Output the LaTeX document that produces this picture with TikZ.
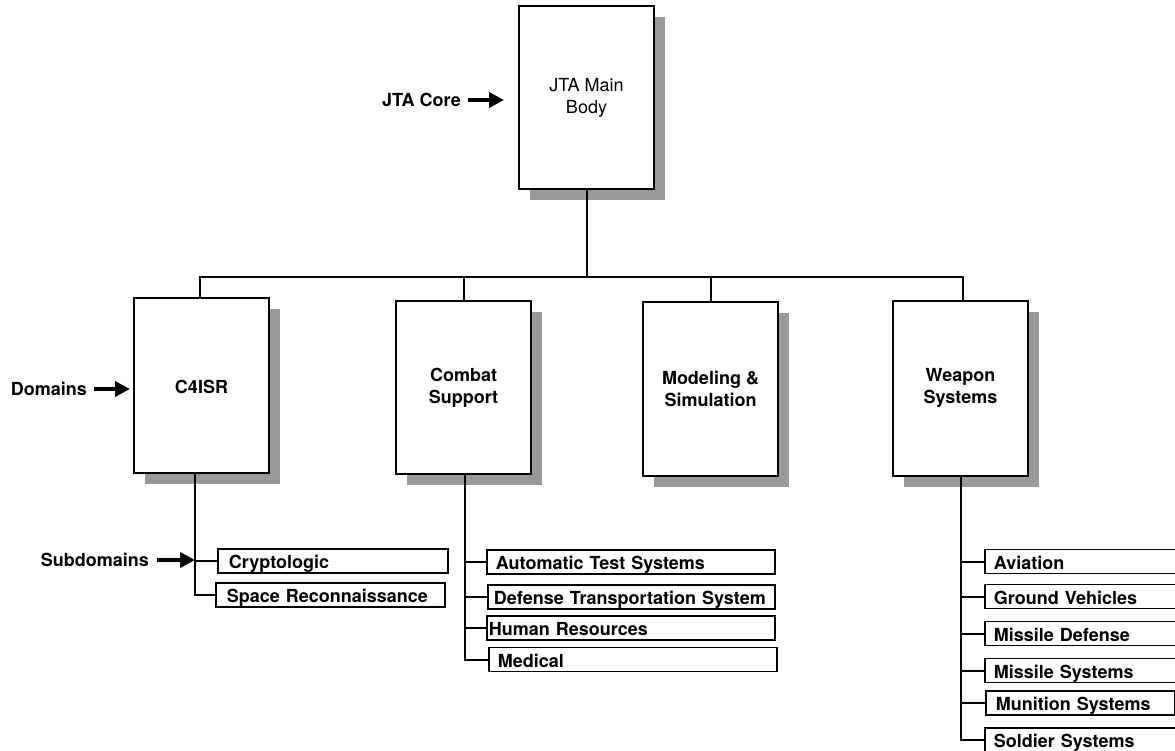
\documentclass[tikz,border=0pt]{standalone}
\usepackage{fontspec}
\setmainfont{TeX Gyre Heros}
\usetikzlibrary{shadows,arrows.meta}
\definecolor{shade}{gray}{0.6}
\tikzset{
  dom/.style={draw, line width=2pt, fill=white, minimum width=135pt, minimum height=175pt,
    align=center, font=\bfseries,
    drop shadow={shadow xshift=11pt, shadow yshift=-11pt, fill=shade, opacity=1}},
  sub/.style={draw, line width=1.8pt, fill=white, anchor=west, text width=#1, inner xsep=9pt,
    inner ysep=0pt, minimum height=24pt, text height=18pt, text depth=3pt, font=\bfseries},
  lab/.style={font=\bfseries, inner sep=0pt, anchor=east},
  fat/.style={line width=3.5pt, -{Triangle[length=15pt,width=15pt]}},
  wire/.style={line width=2pt},
}
\begin{document}
\begin{tikzpicture}[x=1pt, y=-1pt]
\fontsize{18}{22}\selectfont
\useasboundingbox (0,0) rectangle (1175,750);
\clip (0,0) rectangle (1175,750);
\node[dom, font=\mdseries, minimum height=183pt] (main) at (586.5,97.5) {JTA Main\\Body};
\node[dom, text height=17pt] (c4isr) at (201.5,385.5) {C4ISR};
\node[dom, minimum height=173pt] (combat) at (463.5,387.5) {Combat\\Support};
\node[dom, minimum height=174pt] (model) at (710.5,389) {Modeling \&\\Simulation};
\node[dom] (weapon) at (960.5,388) {Weapon\\Systems};
\node[sub=208pt, inner xsep=11pt] (crypto) at (217,561) {Cryptologic};
\node[sub=207pt, inner xsep=11pt] (space) at (215,595) {Space Reconnaissance};
\node[sub=270pt] (ats) at (486,562) {Automatic Test Systems};
\node[sub=275pt, inner xsep=6pt] (dts) at (487,597) {Defense Transportation System};
\node[sub=284pt, inner xsep=2pt] (hr) at (486,628) {Human Resources};
\node[sub=270pt] (med) at (488,659.5) {Medical};
\node[sub=198pt] (avi) at (984,561.5) {Aviation};
\node[sub=198pt] (ground) at (984,596.5) {Ground Vehicles};
\node[sub=198pt] (mdef) at (984,633.5) {Missile Defense};
\node[sub=198pt] (msys) at (984,670.5) {Missile Systems};
\node[sub=169pt, inner xsep=10pt] (mun) at (985,703) {Munition Systems};
\node[sub=198pt] (soldier) at (984,740) {Soldier Systems};
\coordinate (bus) at (0,277);
\draw[wire] (main.south) -- (main.south |- bus);
\draw[wire] ([xshift=-2pt]c4isr.north) |- ([xshift=2.5pt]weapon.north |- bus) -- ([xshift=2.5pt]weapon.north);
\foreach \n in {combat,model} \draw[wire] (\n.north) -- (\n.north |- bus);
\coordinate (cs) at ([xshift=-6.5pt]c4isr.south);
\draw[wire] (cs) |- (space.west);
\draw[wire] (crypto.west) -- (crypto.west -| cs);
\coordinate (ms) at ([xshift=1.5pt]combat.south);
\draw[wire] (ms) |- (med.west);
\foreach \n in {ats,dts,hr} \draw[wire] (\n.west) -- (\n.west -| ms);
\coordinate (ws) at ([xshift=0.5pt]weapon.south);
\draw[wire] (ws) |- (soldier.west);
\foreach \n in {avi,ground,mdef,msys,mun} \draw[wire] (\n.west) -- (\n.west -| ws);
\node[lab] (core) at (461,100) {JTA Core};
\draw[fat, shorten <=7pt, shorten >=14pt] (core.east) -- (main.west |- core.east);
\node[lab] (domains) at (87,389) {Domains};
\draw[fat, shorten <=7pt, shorten >=3pt] (domains.east) -- (c4isr.west |- domains.east);
\node[lab] (subdom) at (149,560) {Subdomains};
\draw[fat, shorten <=8pt] (subdom.east) -- (subdom.east -| cs);
\end{tikzpicture}
\end{document}
